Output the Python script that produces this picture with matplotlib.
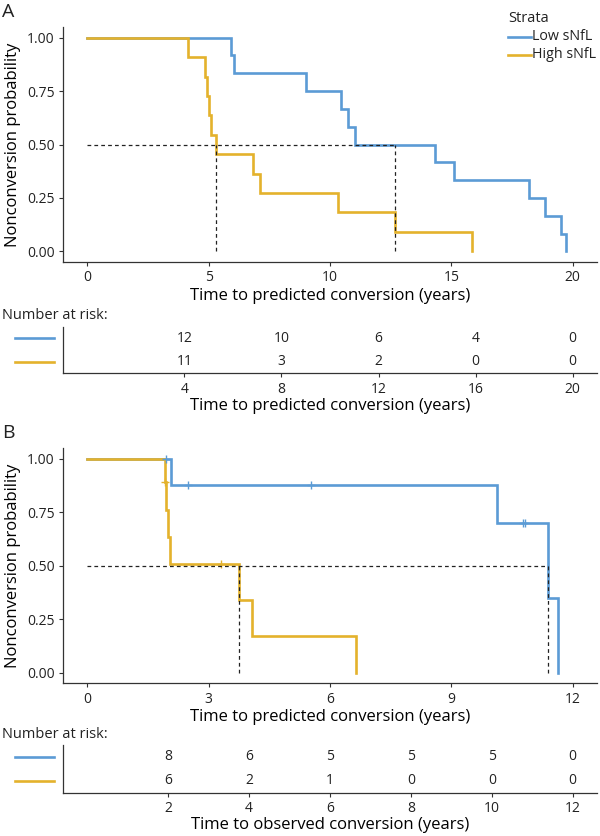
import matplotlib
matplotlib.use("Agg")
import matplotlib.pyplot as plt
from matplotlib.lines import Line2D

plt.rcParams['font.family'] = ['Open Sans', 'DejaVu Sans']

# ---------------- data ----------------
strata = ["Low sNfL", "High sNfL"]
colors = ["#5B9BD5", "#E4B22C"]

# Panel A (step curves: time, survival)
a_low_t = [0, 5.91, 6.03, 9.02, 10.46, 10.73, 11.04, 14.31, 15.10, 18.18, 18.86, 19.51, 19.73]
a_low_s = [1.0, 0.917, 0.833, 0.75, 0.667, 0.583, 0.50, 0.417, 0.333, 0.25, 0.167, 0.083, 0.0]
a_high_t = [0, 4.14, 4.85, 4.93, 5.01, 5.09, 5.31, 6.84, 7.11, 10.32, 12.67, 15.83]
a_high_s = [1.0, 0.909, 0.818, 0.727, 0.636, 0.545, 0.455, 0.364, 0.273, 0.182, 0.091, 0.0]
a_medians = [12.67, 5.31]

a_risk_times = [4, 8, 12, 16, 20]
a_risk_low = [12, 10, 6, 4, 0]
a_risk_high = [11, 3, 2, 0, 0]

# Panel B
b_low_t = [0, 2.06, 10.12, 11.39, 11.64]
b_low_s = [1.0, 0.875, 0.70, 0.35, 0.0]
b_low_cens_t = [1.94, 2.49, 5.54, 10.76, 10.82]
b_low_cens_s = [1.0, 0.875, 0.875, 0.70, 0.70]
b_high_t = [0, 1.91, 1.95, 2.00, 2.04, 3.76, 4.06, 6.64]
b_high_s = [1.0, 0.889, 0.762, 0.635, 0.508, 0.339, 0.169, 0.0]
b_high_cens_t = [1.93, 3.31]
b_high_cens_s = [0.889, 0.508]
b_medians = [11.39, 3.76]

b_risk_times = [2, 4, 6, 8, 10, 12]
b_risk_low = [8, 6, 5, 5, 5, 0]
b_risk_high = [6, 2, 1, 0, 0, 0]

# ---------------- figure ----------------
W, H = 600, 836
fig = plt.figure(figsize=(W / 100, H / 100), dpi=100)

def fx(px):
    return px / W

def fy(py):
    return 1 - py / H

SPINE = "#333333"
TICKFS = 10
LABFS = 12

def style_axes(ax):
    for s in ["top", "right"]:
        ax.spines[s].set_visible(False)
    for s in ["left", "bottom"]:
        ax.spines[s].set_color(SPINE)
        ax.spines[s].set_linewidth(0.9)
    ax.tick_params(colors=SPINE, labelcolor="#222222", labelsize=TICKFS,
                   length=3, width=0.8, pad=3)

def main_panel(rect, curves, cens, medians, xmax, xticks):
    ax = fig.add_axes(rect)
    style_axes(ax)
    for (t, s), c in zip(curves, colors):
        ax.step(t, s, where="post", color=c, lw=1.9, solid_joinstyle="miter")
    for (t, s), c in zip(cens, colors):
        if t:
            ax.plot(t, s, ls="none", marker="+", ms=6, mew=1.0, color=c)
    mmax = max(medians)
    ax.plot([0, mmax], [0.5, 0.5], ls=(0, (3, 2.5)), color="#222222", lw=0.9)
    for m in medians:
        ax.plot([m, m], [0, 0.5], ls=(0, (3, 2.5)), color="#222222", lw=0.9)
    ax.set_xlim(-0.05 * xmax, 1.05 * xmax)
    ax.set_ylim(-0.05, 1.05)
    ax.set_xticks(xticks)
    ax.set_yticks([0, 0.25, 0.5, 0.75, 1.0])
    ax.set_yticklabels(["0.00", "0.25", "0.50", "0.75", "1.00"])
    ax.set_xlabel("Time to predicted conversion (years)", fontsize=LABFS, labelpad=2)
    ax.set_ylabel("Nonconversion probability", fontsize=LABFS, labelpad=4)
    return ax

def risk_panel(rect, times, lows, highs, xmax, xlabel, top_px):
    ax = fig.add_axes(rect)
    style_axes(ax)
    ax.set_xlim(-0.05 * xmax, 1.05 * xmax)
    ax.set_ylim(0.5, 2.5)
    ax.set_yticks([])
    ax.set_xticks(times)
    for t, n in zip(times, lows):
        ax.text(t, 2, str(n), ha="center", va="center", fontsize=TICKFS, color="#222222")
    for t, n in zip(times, highs):
        ax.text(t, 1, str(n), ha="center", va="center", fontsize=TICKFS, color="#222222")
    ax.set_xlabel(xlabel, fontsize=LABFS, labelpad=1)
    # colored legend keys at left
    for yv, c in zip([2, 1], colors):
        ypx = top_px + (2.5 - yv) / 2.0 * (rect[3] * H)
        fig.add_artist(Line2D([fx(15), fx(54)], [fy(ypx), fy(ypx)], color=c, lw=1.9))
    fig.text(fx(2), fy(top_px - 11), "Number at risk:", fontsize=10.5,
             ha="left", va="center", color="#222222")
    return ax

# Panel A
main_panel([fx(63), fy(262), fx(597) - fx(63), fy(27) - fy(262)],
           [(a_low_t, a_low_s), (a_high_t, a_high_s)],
           [([], []), ([], [])], a_medians, 20, [0, 5, 10, 15, 20])
fig.text(fx(2), fy(12), "A", fontsize=14, ha="left", va="center", color="#222222")

risk_panel([fx(63), fy(373.3), fx(597) - fx(63), fy(326.7) - fy(373.3)],
           a_risk_times, a_risk_low, a_risk_high, 20,
           "Time to predicted conversion (years)", 326.7)

# Legend
fig.text(fx(508), fy(19), "Strata", fontsize=10.5, ha="left", va="center", color="#222222")
for i, (name, c) in enumerate(zip(strata, colors)):
    ypx = 37 + 18 * i
    fig.add_artist(Line2D([fx(508), fx(531)], [fy(ypx), fy(ypx)], color=c, lw=1.9))
    fig.text(fx(532), fy(ypx), name, fontsize=10.3, ha="left", va="center", color="#222222")

# Panel B
main_panel([fx(63), fy(683.3), fx(597) - fx(63), fy(448) - fy(683.3)],
           [(b_low_t, b_low_s), (b_high_t, b_high_s)],
           [(b_low_cens_t, b_low_cens_s), (b_high_cens_t, b_high_cens_s)],
           b_medians, 12, [0, 3, 6, 9, 12])
fig.text(fx(2), fy(433), "B", fontsize=14, ha="left", va="center", color="#222222")

risk_panel([fx(63), fy(792.7), fx(597) - fx(63), fy(745) - fy(792.7)],
           b_risk_times, b_risk_low, b_risk_high, 12,
           "Time to observed conversion (years)", 745)

fig.savefig("out.png", dpi=100)
